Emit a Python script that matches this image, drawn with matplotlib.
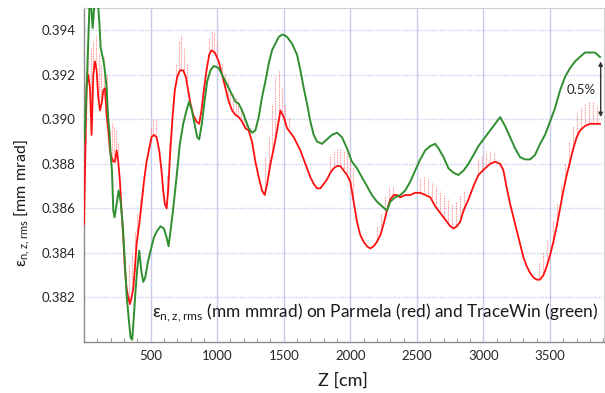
import numpy as np
import matplotlib
matplotlib.use("Agg")
import matplotlib.pyplot as plt
from matplotlib.ticker import MultipleLocator

plt.rcParams['font.family'] = ['Lato', 'DejaVu Sans']
plt.rcParams['mathtext.fontset'] = 'custom'
plt.rcParams['mathtext.rm'] = 'Lato'

# ---------------- data ----------------
green_z = [0, 7, 25, 45, 65, 82, 100, 115, 125, 140, 150, 160, 170, 180, 190, 200, 210,
           220, 230, 245, 260, 275, 290, 305, 320, 335, 350, 362, 375, 387, 400, 415,
           430, 445, 460, 480, 500, 525, 550, 575, 600, 620, 635, 650, 670, 695, 720,
           745, 770, 790, 810, 830, 850, 865, 885, 905, 925, 950, 975, 1012, 1037,
           1062, 1087, 1112, 1137, 1162, 1187, 1212, 1237, 1262, 1287, 1312, 1337,
           1362, 1387, 1412, 1437, 1462, 1487, 1500, 1525, 1562, 1600, 1625, 1650,
           1675, 1700, 1725, 1750, 1787, 1825, 1862, 1900, 1937, 1975, 2012, 2050,
           2087, 2125, 2162, 2200, 2237, 2275, 2300, 2337, 2375, 2412, 2450, 2487,
           2525, 2562, 2600, 2637, 2662, 2700, 2737, 2775, 2812, 2850, 2887, 2925,
           2962, 3000, 3050, 3087, 3125, 3162, 3200, 3237, 3275, 3312, 3350, 3387,
           3425, 3462, 3500, 3537, 3575, 3612, 3650, 3687, 3725, 3762, 3800, 3837, 3875]
green_v = [0.3890, 0.3895, 0.3923, 0.3958, 0.3941, 0.3955, 0.3956, 0.3944, 0.3932,
           0.3928, 0.3925, 0.3920, 0.3914, 0.3902, 0.3895, 0.3884, 0.3877, 0.3859,
           0.3856, 0.3862, 0.3868, 0.3863, 0.3853, 0.3838, 0.3821, 0.3811, 0.3802,
           0.3801, 0.3812, 0.3823, 0.3833, 0.3841, 0.3832, 0.3827, 0.3829, 0.3836,
           0.3841, 0.3847, 0.3850, 0.3852, 0.3851, 0.3847, 0.3843, 0.3850, 0.3860,
           0.3874, 0.3889, 0.3898, 0.3904, 0.3908, 0.3904, 0.3898, 0.3892, 0.3891,
           0.3898, 0.3908, 0.3917, 0.3922, 0.3924, 0.3923, 0.3920, 0.3917, 0.3914,
           0.3911, 0.3908, 0.3907, 0.3904, 0.3900, 0.3896, 0.3894, 0.3895, 0.3901,
           0.3910, 0.3917, 0.3925, 0.3931, 0.3934, 0.3937, 0.3938, 0.3938, 0.3937,
           0.3934, 0.3929, 0.3922, 0.3914, 0.3907, 0.3899, 0.3893, 0.3890, 0.3889,
           0.3891, 0.3893, 0.3894, 0.3892, 0.3887, 0.3881, 0.3878, 0.3874, 0.3870,
           0.3866, 0.3863, 0.3861, 0.3859, 0.3863, 0.3865, 0.3866, 0.3868, 0.3872,
           0.3877, 0.3882, 0.3886, 0.3888, 0.3889, 0.3887, 0.3883, 0.3878, 0.3876,
           0.3875, 0.3877, 0.3880, 0.3884, 0.3888, 0.3891, 0.3895, 0.3898, 0.3901,
           0.3897, 0.3892, 0.3887, 0.3883, 0.3882, 0.3882, 0.3884, 0.3889, 0.3893,
           0.3899, 0.3905, 0.3913, 0.3919, 0.3923, 0.3926, 0.3928, 0.3930, 0.3930,
           0.3930, 0.3928]

red_z = [0, 10, 20, 32, 45, 57, 70, 82, 95, 107, 120, 132, 145, 157, 170, 182, 195,
         207, 220, 232, 245, 257, 270, 282, 295, 307, 320, 332, 345, 357, 370, 382,
         395, 415, 432, 450, 470, 490, 507, 525, 545, 565, 582, 595, 607, 620, 632,
         645, 665, 682, 700, 720, 745, 765, 782, 800, 820, 845, 865, 882, 900, 920,
         940, 957, 982, 1012, 1037, 1062, 1087, 1112, 1137, 1162, 1187, 1212, 1237,
         1262, 1287, 1312, 1337, 1357, 1375, 1400, 1425, 1450, 1475, 1500, 1525,
         1550, 1575, 1600, 1625, 1650, 1675, 1700, 1725, 1750, 1775, 1800, 1825,
         1850, 1875, 1900, 1925, 1950, 1975, 2000, 2025, 2050, 2075, 2100, 2125,
         2150, 2175, 2200, 2225, 2250, 2275, 2300, 2325, 2350, 2375, 2412, 2450,
         2487, 2525, 2562, 2600, 2637, 2675, 2712, 2750, 2775, 2800, 2825, 2850,
         2887, 2925, 2962, 3012, 3050, 3087, 3125, 3150, 3175, 3200, 3225, 3250,
         3275, 3300, 3325, 3350, 3375, 3400, 3425, 3450, 3475, 3500, 3525, 3550,
         3575, 3600, 3625, 3650, 3675, 3700, 3725, 3762, 3800, 3837, 3875]
red_v = [0.3853, 0.3885, 0.3915, 0.3920, 0.3914, 0.3893, 0.3920, 0.3926, 0.3922,
         0.3910, 0.3904, 0.3907, 0.3913, 0.3914, 0.3902, 0.3895, 0.3886, 0.3883,
         0.3881, 0.3881, 0.3886, 0.3881, 0.3872, 0.3859, 0.3847, 0.3833, 0.3824,
         0.3820, 0.3817, 0.3820, 0.3824, 0.3833, 0.3844, 0.3853, 0.3862, 0.3872,
         0.3881, 0.3887, 0.3892, 0.3893, 0.3892, 0.3886, 0.3877, 0.3868, 0.3862,
         0.3860, 0.3868, 0.3883, 0.3901, 0.3913, 0.3919, 0.3922, 0.3922, 0.3919,
         0.3913, 0.3907, 0.3902, 0.3899, 0.3898, 0.3904, 0.3913, 0.3922, 0.3929,
         0.3931, 0.3930, 0.3926, 0.3920, 0.3914, 0.3908, 0.3904, 0.3902, 0.3901,
         0.3899, 0.3896, 0.3895, 0.3890, 0.3881, 0.3874, 0.3868, 0.3866, 0.3871,
         0.3880, 0.3887, 0.3895, 0.3904, 0.3901, 0.3896, 0.3894, 0.3892, 0.3889,
         0.3886, 0.3882, 0.3878, 0.3874, 0.3871, 0.3869, 0.3869, 0.3871, 0.3873,
         0.3876, 0.3878, 0.3879, 0.3879, 0.3877, 0.3875, 0.3872, 0.3863, 0.3854,
         0.3848, 0.3845, 0.3843, 0.3842, 0.3843, 0.3845, 0.3848, 0.3853, 0.3859,
         0.3864, 0.3866, 0.3866, 0.3865, 0.3866, 0.3866, 0.3867, 0.3867, 0.3866,
         0.3865, 0.3861, 0.3858, 0.3855, 0.3852, 0.3851, 0.3852, 0.3854, 0.3859,
         0.3864, 0.3870, 0.3875, 0.3878, 0.3880, 0.3881, 0.3880, 0.3877, 0.3869,
         0.3862, 0.3856, 0.3850, 0.3844, 0.3838, 0.3834, 0.3831, 0.3829, 0.3828,
         0.3828, 0.3830, 0.3834, 0.3839, 0.3845, 0.3852, 0.3860, 0.3868, 0.3875,
         0.3881, 0.3887, 0.3892, 0.3895, 0.3897, 0.3898, 0.3898, 0.3898]

# tops of the thin ripples on the red curve
spike_z = [30, 50, 70, 90, 110, 130, 150, 170, 195, 210, 225, 240, 255,
           340, 360, 380, 400, 420, 440, 460, 480, 500, 520, 540, 620, 640,
           670, 690, 710, 730, 750, 770, 940, 960, 980, 1000,
           1040, 1060, 1080, 1100, 1120, 1140, 1160, 1180, 1200, 1220,
           1362, 1387, 1412, 1437, 1462, 1487, 1512, 1537,
           1850, 1875, 1900, 1925, 1950, 1975, 2000, 2020,
           2200, 2230, 2260, 2290, 2320,
           2520, 2550, 2580, 2610, 2640, 2670, 2700, 2730, 2760, 2790, 2820, 2850,
           2960, 2990, 3020, 3050, 3080, 3420, 3450, 3480,
           3520, 3550, 3580, 3610, 3640, 3670, 3700, 3730, 3760, 3790, 3820, 3850]
spike_top = [0.3935, 0.3932, 0.3935, 0.3938, 0.3930, 0.3925, 0.3928, 0.3920,
             0.3895, 0.3899, 0.3897, 0.3895, 0.3890,
             0.3835, 0.3840, 0.3850, 0.3858, 0.3864, 0.3872, 0.3880, 0.3888,
             0.3897, 0.3900, 0.3900, 0.3875, 0.3890,
             0.3912, 0.3925, 0.3935, 0.3938, 0.3932, 0.3925,
             0.3937, 0.3940, 0.3939, 0.3935,
             0.3925, 0.3921, 0.3918, 0.3914, 0.3912, 0.3910, 0.3908, 0.3905,
             0.3903, 0.3900,
             0.3883, 0.3892, 0.3907, 0.3919, 0.3922, 0.3914, 0.3907, 0.3901,
             0.3884, 0.3886, 0.3887, 0.3887, 0.3886, 0.3885, 0.3884, 0.3878,
             0.3852, 0.3858, 0.3865, 0.3870, 0.3870,
             0.3873, 0.3874, 0.3873, 0.3872, 0.3870, 0.3868, 0.3866, 0.3864,
             0.3862, 0.3863, 0.3866, 0.3868,
             0.3882, 0.3884, 0.3886, 0.3886, 0.3885, 0.3836, 0.3840, 0.3846,
             0.3855, 0.3862, 0.3870, 0.3880, 0.3890, 0.3897, 0.3903, 0.3905,
             0.3907, 0.3908, 0.3908, 0.3906]

x_ticks = [500, 1000, 1500, 2000, 2500, 3000, 3500]
y_ticks = [0.382, 0.384, 0.386, 0.388, 0.390, 0.392, 0.394]
arrow_z = 3880
arrow_lo, arrow_hi = 0.3901, 0.3926
arrow_label = "0.5%"

# ---------------- drawing ----------------
fig = plt.figure(figsize=(6.05, 3.93), dpi=100)
ax = fig.add_axes([84 / 605, 1 - 342 / 393, 520 / 605, 334 / 393])

GREEN = '#2f8f2f'
RED = '#ff1010'
GRID = '#c9c9ee'

red_at_spike = np.interp(spike_z, red_z, red_v)
ax.vlines(spike_z, red_at_spike, spike_top, colors='#ff7070', linewidth=0.8,
          alpha=0.65, linestyles=(0, (1.5, 0.8)), zorder=2)
ax.plot(red_z, red_v, color=RED, lw=1.3, zorder=3)
ax.plot(green_z, green_v, color=GREEN, lw=1.4, zorder=4)

ax.set_xlim(0, 3905)
ax.set_ylim(0.380, 0.395)
ax.set_xticks(x_ticks)
ax.set_yticks(y_ticks)
ax.set_yticklabels([f"{v:.3f}" for v in y_ticks])
ax.xaxis.set_minor_locator(MultipleLocator(100))
ax.tick_params(axis='both', which='major', length=0, labelsize=9.5,
               labelcolor='#262626', pad=6)
ax.tick_params(axis='x', which='minor', direction='in', length=3,
               color='#9a9a9a', width=0.8)
ax.grid(axis='x', color=GRID, lw=1.0, zorder=0)
ax.grid(axis='y', color=GRID, lw=1.0, linestyle=(0, (1, 1)), zorder=0)
ax.set_axisbelow(True)
for side in ['top', 'right']:
    ax.spines[side].set_color('#d0d0d0')
    ax.spines[side].set_linewidth(0.8)
for side in ['left', 'bottom']:
    ax.spines[side].set_color('#8c8c8c')
    ax.spines[side].set_linewidth(1.0)

ax.annotate('', xy=(arrow_z, arrow_hi), xytext=(arrow_z, arrow_lo),
            arrowprops=dict(arrowstyle='<|-|>', color='#333333', lw=1.0,
                            mutation_scale=6, shrinkA=0, shrinkB=0), zorder=6)
ax.text(3732, 0.3913, arrow_label, fontsize=9.5, ha='center', va='center',
        color='#262626', zorder=6)

fig.text(152 / 605, 1 - 313 / 393,
         r'ε$_{\mathregular{n,z,rms}}$ (mm mmrad) on Parmela (red) and TraceWin (green)',
         fontsize=12.4, ha='left', va='center', color='#1a1a1a')

fig.text(22 / 605, 1 - 203 / 393, r'ε$_{\mathregular{n,z,rms}}$ [mm mrad]',
         rotation=90, fontsize=11.5, ha='center', va='center', color='#1a1a1a')
fig.text(343 / 605, 1 - 381 / 393, 'Z [cm]', fontsize=13, ha='center',
         va='center', color='#1a1a1a')

fig.savefig('out.png', dpi=100)
